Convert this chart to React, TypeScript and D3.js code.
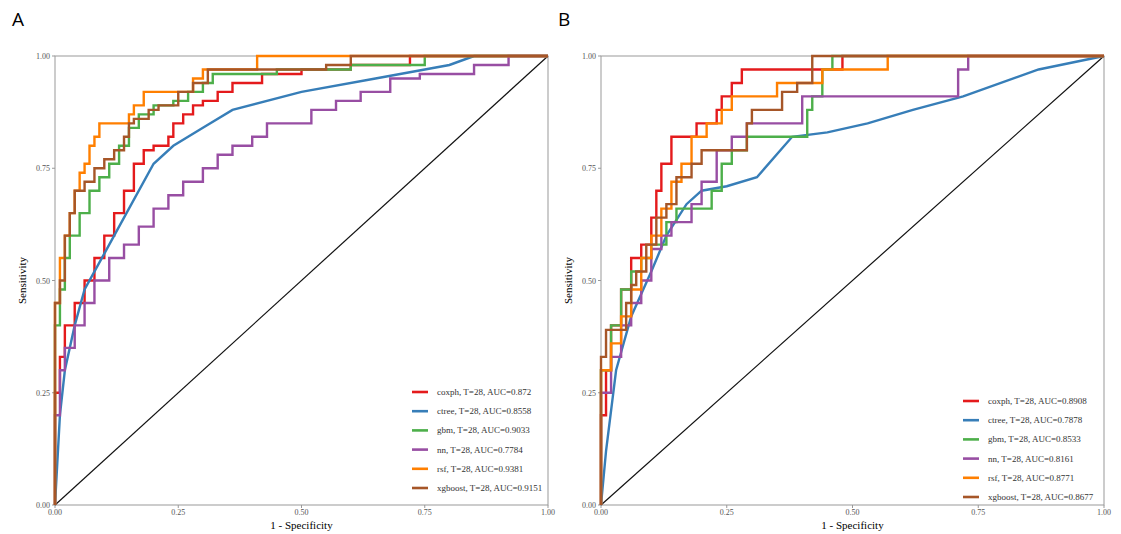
import React from "react";
import * as d3 from "d3";

const models = ["coxph", "ctree", "gbm", "nn", "rsf", "xgboost"];
const colors = ["#e41a1c", "#377eb8", "#4daf4a", "#984ea3", "#ff7f00", "#a65628"];
const aucA = ["0.872", "0.8558", "0.9033", "0.7784", "0.9381", "0.9151"];
const aucB = ["0.8908", "0.7878", "0.8533", "0.8161", "0.8771", "0.8677"];
const ticks = [0, 0.25, 0.5, 0.75, 1];

const coxA: [number, number][] = [[0,0],[0,0.15],[0.01,0.25],[0.02,0.33],[0.04,0.4],[0.06,0.45],[0.08,0.5],[0.1,0.55],[0.12,0.6],[0.14,0.65],[0.16,0.7],[0.18,0.76],[0.2,0.79],[0.23,0.8],[0.24,0.82],[0.26,0.85],[0.28,0.87],[0.3,0.89],[0.33,0.9],[0.36,0.92],[0.42,0.94],[0.5,0.96],[0.6,0.97],[0.72,0.98],[0.8,1],[1,1]];
const ctreeA: [number, number][] = [[0,0],[0.01,0.2],[0.02,0.3],[0.04,0.4],[0.06,0.48],[0.1,0.56],[0.14,0.64],[0.2,0.76],[0.24,0.8],[0.3,0.84],[0.36,0.88],[0.5,0.92],[0.65,0.95],[0.8,0.98],[0.85,1],[1,1]];
const gbmA: [number, number][] = [[0,0],[0,0.25],[0.01,0.4],[0.02,0.48],[0.03,0.55],[0.05,0.6],[0.07,0.65],[0.09,0.7],[0.11,0.73],[0.13,0.76],[0.15,0.8],[0.17,0.84],[0.2,0.87],[0.24,0.89],[0.27,0.9],[0.3,0.92],[0.32,0.94],[0.45,0.96],[0.6,0.97],[0.75,0.98],[0.85,1],[1,1]];
const nnA: [number, number][] = [[0,0],[0,0.1],[0.01,0.2],[0.02,0.3],[0.04,0.35],[0.06,0.4],[0.08,0.45],[0.11,0.5],[0.14,0.55],[0.17,0.58],[0.2,0.62],[0.23,0.66],[0.26,0.69],[0.3,0.72],[0.33,0.75],[0.36,0.78],[0.4,0.8],[0.43,0.82],[0.47,0.85],[0.52,0.85],[0.57,0.88],[0.62,0.9],[0.68,0.92],[0.74,0.95],[0.85,0.96],[0.92,0.98],[0.97,1],[1,1]];
const rsfA: [number, number][] = [[0,0],[0,0.3],[0.01,0.45],[0.02,0.55],[0.03,0.6],[0.04,0.65],[0.05,0.7],[0.06,0.74],[0.07,0.76],[0.08,0.8],[0.09,0.82],[0.1,0.85],[0.15,0.85],[0.16,0.87],[0.18,0.89],[0.19,0.92],[0.28,0.92],[0.3,0.95],[0.32,0.97],[0.41,0.97],[0.43,1],[1,1]];
const xgbA: [number, number][] = [[0,0],[0,0.3],[0.01,0.45],[0.02,0.5],[0.03,0.6],[0.04,0.65],[0.06,0.7],[0.08,0.72],[0.1,0.75],[0.12,0.77],[0.14,0.79],[0.15,0.82],[0.16,0.85],[0.19,0.86],[0.21,0.88],[0.25,0.89],[0.28,0.92],[0.31,0.94],[0.34,0.97],[0.55,0.97],[0.6,0.98],[0.72,1],[1,1]];

const coxB: [number, number][] = [[0,0],[0,0.1],[0.01,0.2],[0.02,0.3],[0.04,0.4],[0.06,0.48],[0.08,0.55],[0.1,0.58],[0.11,0.64],[0.12,0.7],[0.14,0.76],[0.15,0.82],[0.19,0.82],[0.2,0.85],[0.23,0.85],[0.24,0.88],[0.26,0.91],[0.28,0.94],[0.3,0.97],[0.48,0.97],[0.65,1],[1,1]];
const ctreeB: [number, number][] = [[0,0],[0.01,0.12],[0.03,0.3],[0.06,0.42],[0.1,0.52],[0.13,0.6],[0.17,0.67],[0.2,0.7],[0.25,0.71],[0.31,0.73],[0.38,0.82],[0.45,0.83],[0.53,0.85],[0.62,0.88],[0.72,0.91],[0.87,0.97],[1,1]];
const gbmB: [number, number][] = [[0,0],[0,0.15],[0.02,0.3],[0.04,0.4],[0.06,0.48],[0.08,0.52],[0.1,0.55],[0.13,0.58],[0.15,0.63],[0.18,0.66],[0.22,0.66],[0.24,0.7],[0.26,0.76],[0.29,0.79],[0.35,0.82],[0.41,0.82],[0.42,0.88],[0.44,0.91],[0.46,0.97],[0.49,1],[1,1]];
const nnB: [number, number][] = [[0,0],[0,0.1],[0.02,0.25],[0.04,0.33],[0.06,0.4],[0.08,0.45],[0.1,0.5],[0.12,0.57],[0.14,0.6],[0.18,0.63],[0.2,0.67],[0.23,0.72],[0.26,0.79],[0.29,0.82],[0.33,0.85],[0.4,0.85],[0.42,0.91],[0.71,0.91],[0.73,0.97],[0.83,1],[1,1]];
const rsfB: [number, number][] = [[0,0],[0,0.2],[0.02,0.3],[0.04,0.36],[0.06,0.42],[0.08,0.48],[0.1,0.55],[0.12,0.6],[0.14,0.66],[0.16,0.72],[0.18,0.76],[0.21,0.82],[0.24,0.85],[0.26,0.88],[0.27,0.91],[0.35,0.91],[0.36,0.94],[0.44,0.94],[0.47,0.97],[0.57,0.97],[0.58,1],[1,1]];
const xgbB: [number, number][] = [[0,0],[0,0.2],[0.01,0.33],[0.02,0.39],[0.05,0.39],[0.06,0.45],[0.07,0.49],[0.09,0.52],[0.11,0.58],[0.13,0.64],[0.15,0.67],[0.18,0.73],[0.2,0.76],[0.23,0.79],[0.29,0.79],[0.3,0.85],[0.36,0.88],[0.39,0.92],[0.42,0.94],[0.43,1],[1,1]];

const seriesA = [coxA, ctreeA, gbmA, nnA, rsfA, xgbA];
const seriesB = [coxB, ctreeB, gbmB, nnB, rsfB, xgbB];

function Panel({ letter, x0, x1, series, aucs, legX, legY }: any) {
  const y0 = 56, y1 = 505;
  const x = d3.scaleLinear().domain([0, 1]).range([x0, x1]);
  const y = d3.scaleLinear().domain([0, 1]).range([y1, y0]);
  const fmt = d3.format(".2f");
  return (
    <g>
      <text x={x0 - 43} y={26} fontFamily="Open Sans, sans-serif" fontSize={19}>{letter}</text>
      <rect x={x0} y={y0} width={x1 - x0} height={y1 - y0} fill="none" stroke="#999" strokeWidth={1} />
      {ticks.map((t) => (
        <g key={"x" + t}>
          <line x1={x(t)} x2={x(t)} y1={y1} y2={y1 + 3} stroke="#999" />
          <text x={x(t)} y={y1 + 10} fontSize={8} fill="#555" textAnchor="middle" fontFamily="Liberation Serif, serif">{fmt(t)}</text>
          <line x1={x0 - 3} x2={x0} y1={y(t)} y2={y(t)} stroke="#999" />
          <text x={x0 - 5} y={y(t) + 3} fontSize={8} fill="#555" textAnchor="end" fontFamily="Liberation Serif, serif">{fmt(t)}</text>
        </g>
      ))}
      <line x1={x(0)} y1={y(0)} x2={x(1)} y2={y(1)} stroke="#111" strokeWidth={1.2} />
      {series.map((s: [number, number][], i: number) => {
        const line = d3.line<[number, number]>().x((d) => x(d[0])).y((d) => y(d[1]))
          .curve(i === 1 ? d3.curveLinear : d3.curveStepBefore);
        return <path key={i} d={line(s) || ""} fill="none" stroke={colors[i]} strokeWidth={2.4} />;
      })}
      {models.map((m, i) => (
        <g key={m}>
          <line x1={legX} x2={legX + 16} y1={legY + i * 19.2} y2={legY + i * 19.2} stroke={colors[i]} strokeWidth={2.6} />
          <text x={legX + 25} y={legY + i * 19.2 + 3} fontSize={9} fontFamily="Liberation Serif, serif" fill="#333">{`${m}, T=28, AUC=${aucs[i]}`}</text>
        </g>
      ))}
      <text x={(x0 + x1) / 2} y={529} fontSize={11} textAnchor="middle" fontFamily="Liberation Serif, serif">1 - Specificity</text>
      <text transform={`translate(${x0 - 29},${(y0 + y1) / 2}) rotate(-90)`} fontSize={11} textAnchor="middle" fontFamily="Liberation Serif, serif">Sensitivity</text>
    </g>
  );
}

export default function App() {
  return (
    <svg width={1121} height={534} style={{ position: "absolute", left: 0, top: 0, background: "#fff" }}>
      <Panel letter="A" x0={55} x1={548} series={seriesA} aucs={aucA} legX={412} legY={392} />
      <Panel letter="B" x0={601} x1={1104} series={seriesB} aucs={aucB} legX={963} legY={401} />
    </svg>
  );
}
